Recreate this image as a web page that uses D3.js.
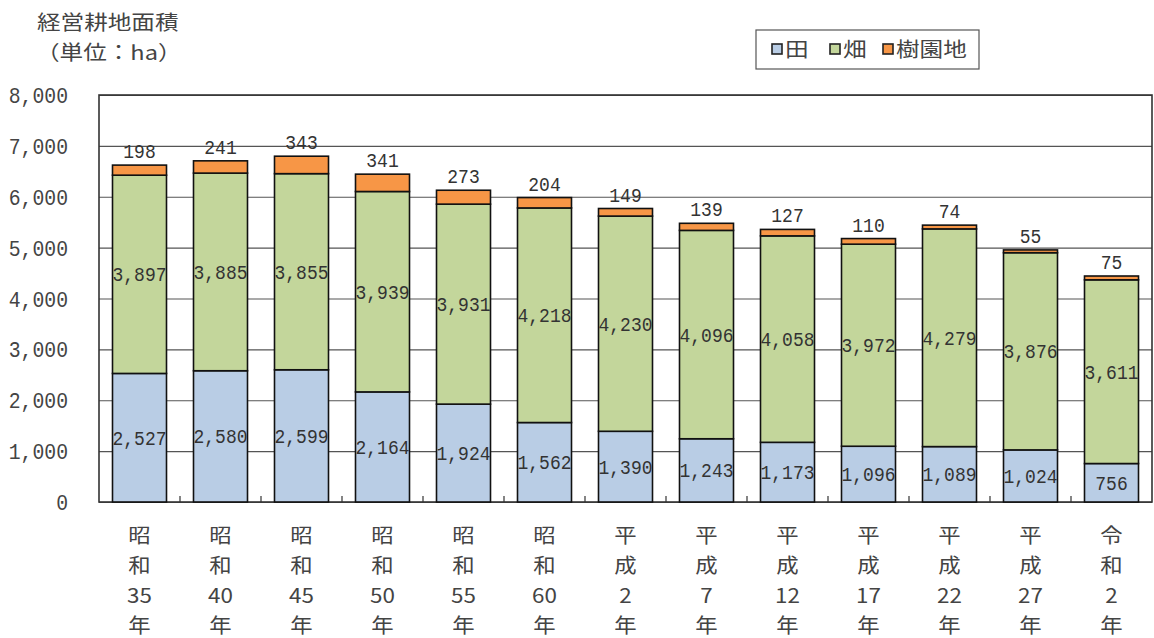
<!DOCTYPE html>
<html><head><meta charset="utf-8">
<script src="https://cdn.jsdelivr.net/npm/d3@7"></script>
<style>body{margin:0;background:#fff;} svg{display:block}</style>
</head><body>
<svg id="chart" width="1154" height="638"></svg>
<script>
const categories = ["昭和35年","昭和40年","昭和45年","昭和50年","昭和55年","昭和60年","平成2年","平成7年","平成12年","平成17年","平成22年","平成27年","令和2年"];
const paddy   = [2527,2580,2599,2164,1924,1562,1390,1243,1173,1096,1089,1024,756];
const field   = [3897,3885,3855,3939,3931,4218,4230,4096,4058,3972,4279,3876,3611];
const orchard = [198,241,343,341,273,204,149,139,127,110,74,55,75];
const seriesNames = ["田","畑","樹園地"];
const seriesKeys = ["paddy","field","orchard"];
const seriesColors = ["#b9cde5","#c3d69b","#f79646"];
const yTicks = [0,1000,2000,3000,4000,5000,6000,7000,8000];
const titleLines = ["経営耕地面積","（単位：ha）"];

const CJK = "'Noto Sans CJK JP', sans-serif";
const NUM = "'Liberation Mono', monospace";
const SX = 1.18;

const svg = d3.select("#chart");
const L = 99, R = 1152, T = 95, B = 502;

const rows = categories.map((c,i)=>({cat:c, paddy:paddy[i], field:field[i], orchard:orchard[i]}));
const stacked = d3.stack().keys(seriesKeys)(rows);

const x = d3.scaleBand().domain(categories).range([L,R]).paddingInner(1/3).paddingOuter(1/6);
const y = d3.scaleLinear().domain([0,8000]).range([B,T]);

// gridlines + y labels
const yAxis = d3.axisLeft(y).tickValues(yTicks).tickSize(-(R-L)).tickPadding(0).tickFormat(d3.format(","));
const gy = svg.append("g").attr("transform",`translate(${L},0)`).call(yAxis);
gy.select(".domain").remove();
gy.selectAll(".tick line").attr("stroke","#555").attr("stroke-width",1.1);
gy.selectAll(".tick text")
  .attr("x",null).attr("dy",null)
  .attr("transform","translate(-31,7.5) scale(0.92,1)")
  .attr("text-anchor","end")
  .attr("fill","#444")
  .style("font-family",NUM).style("font-size","21.5px");

// frame
svg.append("rect").attr("x",L).attr("y",T).attr("width",R-L).attr("height",B-T)
  .attr("fill","none").attr("stroke","#333").attr("stroke-width",1.6);

// category boundary ticks
const step = x.step();
svg.append("g").selectAll("line").data(categories.slice(1)).join("line")
  .attr("x1",d=>x(d)-step*x.paddingInner()/2).attr("x2",d=>x(d)-step*x.paddingInner()/2)
  .attr("y1",B).attr("y2",B-6).attr("stroke","#333").attr("stroke-width",1.2);

// bars
const layers = svg.append("g").selectAll("g").data(stacked).join("g")
  .attr("fill",(d,i)=>seriesColors[i]);
layers.selectAll("rect").data(d=>d).join("rect")
  .attr("x",d=>x(d.data.cat)).attr("width",x.bandwidth())
  .attr("y",d=>y(d[1])).attr("height",d=>y(d[0])-y(d[1]))
  .attr("stroke","#111").attr("stroke-width",1.6);

// value labels inside (田, 畑)
const fmt = d3.format(",");
stacked.slice(0,2).forEach(layer=>{
  svg.append("g").selectAll("text").data(layer).join("text")
    .attr("transform",d=>`translate(${x(d.data.cat)+x.bandwidth()/2},${(y(d[0])+y(d[1]))/2+7}) scale(0.9,1)`)
    .attr("text-anchor","middle").attr("fill","#333")
    .style("font-family",NUM).style("font-size","20px")
    .text(d=>fmt(d[1]-d[0]));
});
// top labels (樹園地)
svg.append("g").selectAll("text").data(stacked[2]).join("text")
  .attr("transform",d=>`translate(${x(d.data.cat)+x.bandwidth()/2},${y(d[1])-7}) scale(0.9,1)`)
  .attr("text-anchor","middle").attr("fill","#333")
  .style("font-family",NUM).style("font-size","20px")
  .text(d=>fmt(d[1]-d[0]));

// x labels (vertical stacked)
const xl = svg.append("g").selectAll("g").data(categories).join("g")
  .attr("transform",d=>`translate(${x(d)+x.bandwidth()/2},0)`);
xl.each(function(d){
  const lines = [d[0], d[1], d.slice(2,-1), d.slice(-1)];
  d3.select(this).selectAll("text").data(lines).join("text")
    .attr("transform",(t,i)=>`translate(0,${543+i*30}) scale(1.12,1)`)
    .attr("text-anchor","middle").attr("fill","#444")
    .style("font-family",CJK).style("font-size","20px")
    .text(t=>t);
});

// title
svg.append("text").attr("transform",`translate(37,30) scale(${SX},1)`)
  .attr("fill","#444").style("font-family",CJK).style("font-size","20px").text(titleLines[0]);
svg.append("text").attr("transform",`translate(36,60) scale(${SX},1)`)
  .attr("fill","#444").style("font-family",CJK).style("font-size","20px").text(titleLines[1]);

// legend
svg.append("rect").attr("x",756).attr("y",30).attr("width",223).attr("height",39)
  .attr("fill","#fff").attr("stroke","#555").attr("stroke-width",1.2);
const legX = [772,830,883];
const lg = svg.append("g").selectAll("g").data(seriesNames).join("g")
  .attr("transform",(d,i)=>`translate(${legX[i]},0)`);
lg.append("rect").attr("x",0).attr("y",44).attr("width",10).attr("height",10)
  .attr("fill",(d,i)=>seriesColors[i]).attr("stroke","#222").attr("stroke-width",1.6);
lg.append("text").attr("transform",`translate(13,57) scale(${SX},1)`)
  .attr("fill","#444").style("font-family",CJK).style("font-size","20px").text(d=>d);
</script>
</body></html>
